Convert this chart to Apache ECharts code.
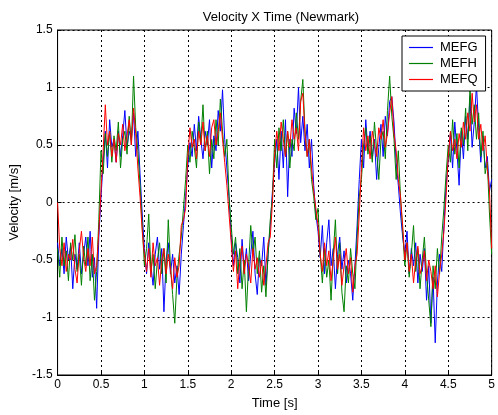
<!DOCTYPE html>
<html><head><meta charset="utf-8">
<script src="https://cdn.jsdelivr.net/npm/echarts@6/dist/echarts.min.js"></script>
<style>html,body{margin:0;padding:0;background:#fff}#c{width:498px;height:415px}</style>
</head><body><div id="c"></div>
<script>
const title = 'Velocity X Time (Newmark)';
const seriesNames = ['MEFG', 'MEFH', 'MEFQ'];
const xTicks = ['0','0.5','1','1.5','2','2.5','3','3.5','4','4.5','5'];
const yTicks = ['-1.5','-1','-0.5','0','0.5','1','1.5'];
const timeStep = 0.025;
const time = Array.from({length: 201}, (_, i) => +(i * timeStep).toFixed(3));

const mefg = [
-0.35,-0.55,-0.40,-0.62,-0.30,-0.50,-0.38,-0.75,-0.45,-0.58,
-0.35,-0.62,-0.45,-0.30,-0.55,-0.25,-0.65,-0.48,-0.92,-0.30,
0.05,0.35,0.62,0.30,0.72,0.48,0.55,0.35,0.62,0.40,
0.58,0.80,0.48,0.62,0.55,0.78,0.40,0.62,0.25,-0.10,
-0.40,-0.62,-0.35,-0.55,-0.72,-0.45,-0.30,-0.58,-0.40,-0.95,
-0.50,-0.35,-0.62,-0.45,-0.70,-0.55,-0.80,-0.45,-0.20,0.05,
0.32,0.52,0.40,0.68,0.45,0.75,0.55,0.38,0.62,0.50,
0.72,0.30,0.58,0.45,0.80,0.62,0.98,0.55,0.30,0.05,
-0.30,-0.55,-0.35,-0.48,-0.70,-0.32,-0.58,-0.40,-0.68,-0.45,
-0.25,-0.62,-0.80,-0.48,-0.55,-0.30,-0.72,-0.45,-0.20,0.10,
0.35,0.55,0.20,0.62,0.30,0.72,0.05,0.55,0.40,0.82,
0.60,1.00,0.52,0.75,0.45,0.68,0.30,0.55,0.15,-0.10,
-0.25,-0.48,-0.20,-0.62,-0.35,-0.15,-0.55,-0.40,-0.75,-0.45,
-0.30,-0.58,-0.42,-0.70,-0.50,-0.62,-0.85,-0.55,-0.20,0.20,
0.55,0.30,0.72,0.45,0.62,0.38,0.55,0.20,0.48,0.68,
0.40,0.75,0.58,0.88,0.92,0.70,0.35,0.15,-0.10,-0.30,
-0.45,-0.25,-0.62,-0.40,-0.55,-0.35,-0.70,-0.45,-0.60,-0.40,
-0.85,-0.55,-1.05,-0.65,-1.22,-0.70,-0.45,-0.60,-0.20,0.15,
0.38,0.60,0.30,0.70,0.45,0.15,0.62,0.38,0.75,0.55,
0.92,0.48,0.70,1.02,0.65,0.35,0.58,0.30,0.40,0.10,
0.20];

const mefh = [
-0.40,-0.65,-0.30,-0.55,-0.42,-0.68,-0.35,-0.50,-0.28,-0.60,
-0.45,-0.72,-0.38,-0.55,-0.30,-0.68,-0.45,-0.85,-0.60,-0.15,
0.45,0.25,0.60,0.40,0.62,0.35,0.58,0.45,0.70,0.30,
0.55,0.62,0.42,0.75,0.50,1.10,0.65,0.45,0.15,-0.20,
-0.55,-0.40,-0.10,-0.60,-0.45,-0.75,-0.50,-0.35,-0.62,-0.40,
-0.70,-0.15,-0.55,-0.80,-1.05,-0.65,-0.45,-0.30,-0.05,0.20,
0.50,0.35,0.62,0.48,0.30,0.70,0.52,0.85,0.45,0.62,
0.25,0.55,0.38,0.72,0.50,0.90,0.62,0.40,0.55,0.05,
-0.20,-0.45,-0.30,-0.62,-0.40,-0.75,-0.50,-0.95,-0.55,-0.20,
-0.45,-0.30,-0.62,-0.42,-0.78,-0.55,-0.82,-0.45,-0.15,0.05,
0.55,0.30,0.65,0.45,0.72,0.40,0.62,0.30,0.55,0.45,
0.78,0.55,0.88,1.07,0.62,0.40,0.55,0.20,0.05,-0.15,
-0.05,-0.45,-0.70,-0.40,-0.65,-0.50,-0.85,-0.45,-0.15,-0.62,
-0.35,-0.78,-0.95,-0.55,-0.70,-0.40,-0.62,-0.75,-0.30,0.05,
0.20,0.50,0.65,0.42,0.58,0.35,0.70,0.45,0.20,0.55,
0.62,0.38,0.80,1.10,0.75,0.55,0.20,0.45,0.05,-0.25,
-0.55,-0.35,-0.65,-0.45,-0.20,-0.60,-0.40,-0.75,-0.50,-0.30,
-0.62,-0.85,-1.08,-0.55,-0.75,-0.40,-0.62,-0.30,-0.05,0.25,
0.50,0.35,0.72,0.42,0.60,0.30,0.65,0.50,0.82,0.45,
1.00,0.68,0.85,0.55,0.78,0.40,0.62,0.25,0.35,-0.10,
-0.45];

const mefq = [
0.00,-0.40,-0.55,-0.35,-0.60,-0.45,-0.50,-0.32,-0.58,-0.70,
-0.42,-0.25,-0.48,-0.60,-0.40,-0.55,-0.30,-0.62,-0.55,-0.25,
0.10,0.45,0.85,0.50,0.62,0.40,0.55,0.35,0.60,0.50,
0.68,0.45,0.58,0.72,0.50,0.82,0.60,0.30,0.05,-0.25,
-0.45,-0.60,-0.40,-0.65,-0.35,-0.55,-0.48,-0.72,-0.50,-0.40,
-0.62,-0.45,-0.58,-0.75,-0.48,-0.65,-0.55,-0.20,-0.15,-0.05,
0.40,0.65,0.48,0.55,0.38,0.62,0.50,0.70,0.45,0.58,
0.40,0.65,0.72,0.50,0.62,0.78,0.55,0.35,0.15,-0.10,
-0.35,-0.60,-0.42,-0.75,-0.50,-0.38,-0.62,-0.45,-0.55,-0.70,
-0.40,-0.58,-0.48,-0.65,-0.50,-0.72,-0.55,-0.35,-0.30,0.00,
0.42,0.62,0.45,0.70,0.55,0.40,0.62,0.48,0.72,0.55,
0.65,0.45,0.88,0.95,0.60,0.40,0.55,0.30,0.10,-0.05,
-0.20,-0.45,-0.60,-0.35,-0.55,-0.42,-0.68,-0.50,-0.30,-0.58,
-0.45,-0.72,-0.55,-0.40,-0.62,-0.48,-0.78,-0.55,-0.45,-0.10,
0.30,0.65,0.45,0.58,0.38,0.62,0.50,0.40,0.65,0.55,
0.72,0.48,0.60,0.78,0.92,0.60,0.45,0.20,0.05,-0.20,
-0.50,-0.35,-0.60,-0.45,-0.70,-0.50,-0.38,-0.62,-0.55,-0.42,
-0.68,-0.50,-0.60,-0.75,-0.55,-0.82,-0.60,-0.45,-0.25,0.05,
0.40,0.62,0.45,0.55,0.38,0.60,0.48,0.70,0.55,0.78,
0.62,0.95,0.70,0.85,0.55,0.68,0.45,0.58,0.30,0.10,
-0.40];

const colors = ['#0000ff', '#008000', '#ff0000'];
const allValues = [mefg, mefh, mefq];
const FONT = 'Liberation Sans, Arial, sans-serif';

const chart = echarts.init(document.getElementById('c'), null, {renderer: 'canvas'});
const gridLine = {show: true, lineStyle: {color: '#000', type: [2, 3], width: 1}};
chart.setOption({
  animation: false,
  backgroundColor: '#fff',
  title: {text: title, left: 276, top: 6, textAlign: 'center',
    textStyle: {fontFamily: FONT, fontSize: 13, fontWeight: 'normal', color: '#000'}},
  grid: {left: 57, right: 2, top: 30, bottom: 37, show: true, borderColor: '#000', borderWidth: 1, backgroundColor: 'transparent'},
  legend: {
    data: seriesNames, orient: 'vertical', left: 402, top: 36,
    width: 87, padding: [5, 8, 5, 7], itemGap: 3, itemWidth: 24, itemHeight: 14,
    icon: 'path://M0,6.5H24V7.7H0Z',
    backgroundColor: '#fff', borderColor: '#000', borderWidth: 1,
    textStyle: {fontFamily: FONT, fontSize: 13, color: '#000', padding: [0, 0, 0, 2]}
  },
  xAxis: {
    type: 'value', min: 0, max: 5, interval: 0.5,
    name: 'Time [s]', nameLocation: 'middle', nameGap: 22,
    nameTextStyle: {fontFamily: FONT, fontSize: 13, color: '#000'},
    axisLine: {show: true, onZero: false, lineStyle: {color: '#000'}},
    axisTick: {show: true, inside: true, length: 4, lineStyle: {color: '#000'}},
    axisLabel: {fontFamily: FONT, fontSize: 12, color: '#000', margin: 4,
      formatter: v => xTicks[Math.round(v / 0.5)]},
    splitLine: gridLine
  },
  yAxis: {
    type: 'value', min: -1.5, max: 1.5, interval: 0.5,
    name: 'Velocity [m/s]', nameLocation: 'middle', nameGap: 35, nameRotate: 90,
    nameTextStyle: {fontFamily: FONT, fontSize: 13, color: '#000'},
    axisLine: {show: true, onZero: false, lineStyle: {color: '#000'}},
    axisTick: {show: true, inside: true, length: 4, lineStyle: {color: '#000'}},
    axisLabel: {fontFamily: FONT, fontSize: 12, color: '#000', margin: 5,
      formatter: v => yTicks[Math.round((v + 1.5) / 0.5)]},
    splitLine: gridLine
  },
  series: seriesNames.map((name, k) => ({
    name, type: 'line', symbol: 'none', showSymbol: false,
    data: time.map((t, i) => [t, allValues[k][i]]),
    lineStyle: {color: colors[k], width: 1},
    itemStyle: {color: colors[k]},
    z: 2 + k
  }))
});
</script></body></html>
